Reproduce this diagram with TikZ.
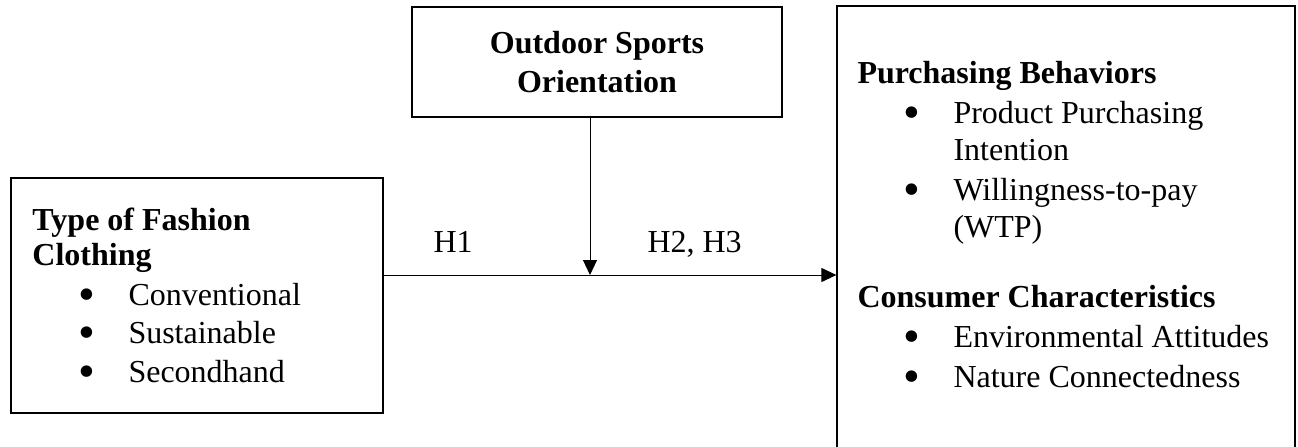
\documentclass[tikz,border=0pt]{standalone}
\usepackage{fontspec}
\setmainfont{Liberation Serif}
\usetikzlibrary{arrows.meta,positioning}
\newcommand{\marca}{\llap{\smash{\raisebox{-2.6pt}{\scalebox{1.5}{\textbullet}}}\hspace{16.8pt}}}

\begin{document}
\begin{tikzpicture}[x=0.5pt, y=-0.5pt, >={Triangle[length=7.5pt,width=7pt]}, line width=0.5pt,
    caixa/.style={draw, rectangle, line width=0.6pt, inner sep=0pt},
    titulo/.style={anchor=base west, inner sep=0pt, align=left, font=\fontsize{16}{17.5}\bfseries\selectfont},
    item/.style={anchor=base west, inner sep=0pt, align=left, font=\fontsize{16}{18.5}\selectfont}]
\clip (0,0) rectangle (1298,446);
% Caixa esquerda
\node[caixa, minimum width=186pt, minimum height=117.5pt] (tipo) at (197,295.5) {};
\node[titulo] (tipotit) at (32,265) {Type of Fashion\\Clothing};
\node[item] (conv) at (128,305) {\marca Conventional};
\node[item] (sust) at (128,343) {\marca Sustainable};
\node[item] (segm) at (128,382) {\marca Secondhand};
% Caixa moderadora
\node[caixa, minimum width=185pt, minimum height=55pt, font=\fontsize{16}{19.5}\bfseries\selectfont, align=center] (orient) at (597,62) {Outdoor Sports\\Orientation};
% Caixa direita
\node[caixa, minimum width=229pt, minimum height=232pt] (result) at (1066,238) {};
\node[titulo] (compra) at (857,83) {Purchasing Behaviors};
\node[item] (intencao) at (953,160) {\marca Product Purchasing\\Intention};
\node[item] (wtp) at (953,237) {\marca Willingness-to-pay\\(WTP)};
\node[titulo] (consum) at (857,307) {Consumer Characteristics};
\node[item] (atit) at (953,347) {\marca Environmental Attitudes};
\node[item] (natur) at (953,387) {\marca Nature Connectedness};
% Setas
\coordinate (juncao) at (590,275);
\draw[->] (tipo.east |- juncao) -- (result.west |- juncao);
\draw[->] (juncao |- orient.south) -- (juncao);
\node[item] (h1) at (433,252) {H1};
\node[item] (h23) at (647,252) {H2, H3};
\end{tikzpicture}
\end{document}
